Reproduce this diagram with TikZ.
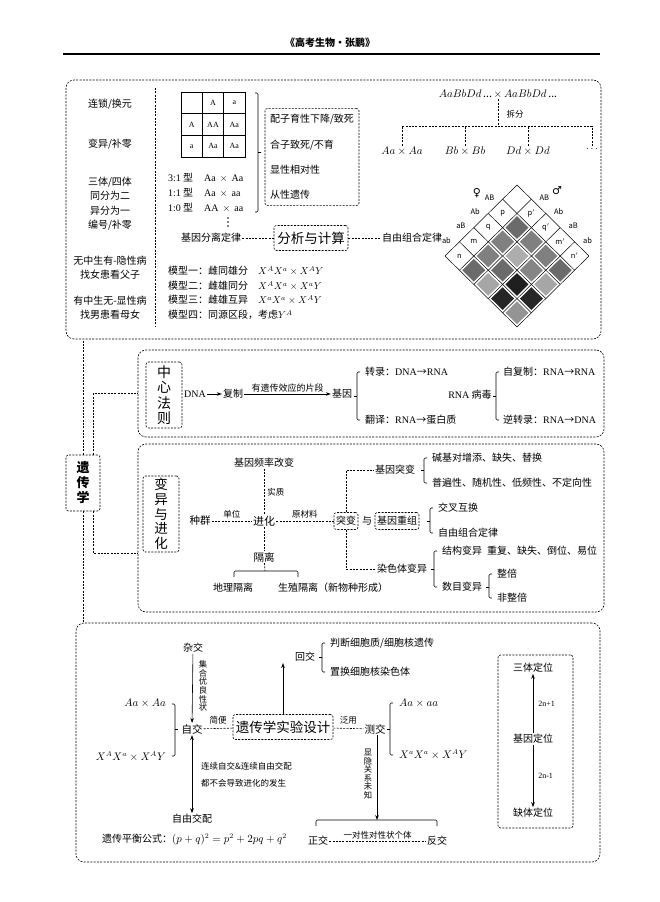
\documentclass[tikz,border=0pt]{standalone}
\usepackage{fontspec}
\usetikzlibrary{arrows.meta,calc}
\newfontfamily\cjk{Noto Sans CJK SC}
\newfontfamily\symf{DejaVu Sans}
\newfontfamily\latf{Liberation Serif}
\newcommand\lat[1]{{\latf #1}}
\newcommand\mybraceR[4]{\draw[brc] (#1+3,#2) -- (#1,#2) -- (#1,#3) -- (#1+3,#3); \draw[brc] (#1,#4) -- (#1-3,#4);}
\newcommand\mybraceL[4]{\draw[brc] (#1-3,#2) -- (#1,#2) -- (#1,#3) -- (#1-3,#3); \draw[brc] (#1,#4) -- (#1+3,#4);}
\begin{document}
\begin{tikzpicture}[x=1pt,y=-1pt,
  every node/.style={font=\cjk\fontsize{10}{12}\selectfont, inner sep=1pt},
  dsh/.style={dash pattern=on 2pt off 1.3pt, line width=0.6pt},
  panel/.style={dsh, rounded corners=8pt},
  dbox/.style={draw, dsh, rounded corners=2.5pt},
  big/.style={font=\cjk\fontsize{13.5}{15}\selectfont},
  sm/.style={font=\cjk\fontsize{8.5}{10}\selectfont},
  vs/.style={font=\cjk\fontsize{8.3}{8.6}\selectfont, align=center},
  gl/.style={font=\latf\fontsize{8}{9}\selectfont},
  dl/.style={font=\cjk\fontsize{7.5}{8}\selectfont, inner sep=0.5pt},
  mth/.style={font=\cjk\fontsize{10.5}{12}\selectfont},
  arr/.style={-{Stealth[length=5pt,width=3.6pt]}, line width=0.6pt},
  darr/.style={{Stealth[length=5pt,width=3.6pt]}-{Stealth[length=5pt,width=3.6pt]}, line width=0.6pt},
  brc/.style={line width=0.6pt, rounded corners=1.2pt},
  conn/.style={dsh},
]
\useasboundingbox (0,0) rectangle (659,902);
\fill[white] (0,0) rectangle (659,902);

% header
\node[font=\cjk\bfseries\fontsize{10}{12}\selectfont] (hdr) at (330,43) {《高考生物·张鹏》};
\coordinate (hl1) at (63,54); \coordinate (hl2) at (600,54);
\draw[line width=1.6pt] (hl1) -- (hl2);

% ================= panel 1
\node[draw,panel,minimum width=535,minimum height=259,inner sep=0] (P1) at (333.5,209.5) {};
\coordinate (dv1) at (155,88); \coordinate (dv2) at (155,327);
\draw[dsh] (dv1) -- (dv2);

\node (t1) at (110,104) {连锁/换元};
\node (t2) at (110,144) {变异/补零};
\node[align=center, font=\cjk\fontsize{10}{14.5}\selectfont] (t3) at (110,203.5) {三体/四体\\同分为二\\异分为一\\编号/补零};
\node[align=center, font=\cjk\fontsize{10}{14}\selectfont] (t4) at (110,268) {无中生有-隐性病\\找女患看父子};
\node[align=center, font=\cjk\fontsize{10}{14}\selectfont] (t5) at (110,308) {有中生无-显性病\\找男患看母女};

% Punnett square
\draw[line width=0.5pt] (181,92) rectangle (245,157);
\foreach \xx in {202.3,223.7} \draw[line width=0.5pt] (\xx,92) -- (\xx,157);
\foreach \yy in {113.7,135.3} \draw[line width=0.5pt] (181,\yy) -- (245,\yy);
\node[gl] (g01) at (213,102.8) {A};
\node[gl] (g02) at (234.3,102.8) {a};
\node[gl] (g10) at (191.7,124.5) {A};
\node[gl] (g11) at (213,124.5) {AA};
\node[gl] (g12) at (234.3,124.5) {Aa};
\node[gl] (g20) at (191.7,146.2) {a};
\node[gl] (g21) at (213,146.2) {Aa};
\node[gl] (g22) at (234.3,146.2) {Aa};

\node[anchor=west] (r31) at (167,178) {\lat{3:1} 型\hspace{11pt}\lat{Aa\hspace{4pt}$\times$\hspace{4pt}Aa}};
\node[anchor=west] (r11) at (167,193) {\lat{1:1} 型\hspace{11pt}\lat{Aa\hspace{4pt}$\times$\hspace{4pt}aa}};
\node[anchor=west] (r10) at (167,208) {\lat{1:0} 型\hspace{11pt}\lat{AA\hspace{4pt}$\times$\hspace{4pt}aa}};
\coordinate (vd) at (228,222);
\foreach \dd in {-4,0,4} \fill ($(vd)+(0,\dd)$) circle (0.8pt);

\mybraceL{258}{93}{212}{152}
\node[dbox, align=left, font=\cjk\fontsize{10}{25.3}\selectfont, inner xsep=5pt, inner ysep=6pt, minimum width=94] (fbox) at (312,157) {配子育性下降/致死\\合子致死/不育\\显性相对性\\从性遗传};

\node (fl) at (211,238) {基因分离定律};
\node[dbox, big, minimum width=74, minimum height=25] (fx) at (311,238) {分析与计算};
\node (zy) at (412,238) {自由组合定律};
\draw[conn] (fl) -- (fx);
\draw[conn] (fx) -- (zy);

\node[anchor=west] (m1) at (167,271) {模型一：雌同雄分\hspace{10pt}$X^AX^a\times X^AY$};
\node[anchor=west] (m2) at (167,286) {模型二：雌雄同分\hspace{10pt}$X^AX^a\times X^aY$};
\node[anchor=west] (m3) at (167,300) {模型三：雌雄互异\hspace{10pt}$X^aX^a\times X^AY$};
\node[anchor=west] (m4) at (167,315) {模型四：同源区段，考虑$Y^A$};

% split
\node[mth] (ab0) at (498,94) {$AaBbDd$\,...\,$\times$\,$AaBbDd$\,...};
\coordinate (sp) at (498,126);
\node[sm] (cf) at (515,114) {拆分};
\node[mth] (aa1) at (402,151) {$Aa\times Aa$};
\node[mth] (bb1) at (465,151) {$Bb\times Bb$};
\node[mth] (dd1) at (528,151) {$Dd\times Dd$};
\node (dts) at (592,149) {$\cdots$};
\draw[conn] (ab0.south) -- (sp);
\draw[conn] (aa1.north) |- (sp) -| (dts.north);
\draw[conn] (bb1.north) -- (bb1.north |- sp);
\draw[conn] (dd1.north) -- (dd1.north |- sp);

% diamond
\begin{scope}[shift={(517,185)}, x={(14.4pt,-14.2pt)}, y={(-14.4pt,-14.2pt)}]
  \foreach \i/\j/\g in {1/1/58, 1/2/50, 2/1/50, 2/2/32, 1/3/50, 3/1/50, 1/4/58, 4/1/58, 2/3/48, 3/2/58, 2/4/35, 4/2/35, 3/3/88, 3/4/85, 4/3/85, 4/4/42}
    \fill[black!\g] (\j+0.1,\i+0.1) -- (\j+0.9,\i+0.1) -- (\j+0.9,\i+0.9) -- (\j+0.1,\i+0.9) -- cycle;
  \foreach \k in {0,...,5} {
    \draw[line width=0.5pt] (\k,0) -- (\k,5);
    \draw[line width=0.5pt] (0,\k) -- (5,\k);
  }
  \node[dl] (hp) at (0.5,1.5) {p};
  \node[dl] (hq) at (0.5,2.5) {q};
  \node[dl] (hm) at (0.5,3.5) {m};
  \node[dl] (hn) at (0.5,4.5) {n};
  \node[dl] (hp2) at (1.5,0.5) {p$'$};
  \node[dl] (hq2) at (2.5,0.5) {q$'$};
  \node[dl] (hm2) at (3.5,0.5) {m$'$};
  \node[dl] (hn2) at (4.5,0.5) {n$'$};
  \node[dl] (la1) at (-0.5,1.4) {AB};
  \node[dl] (la2) at (-0.5,2.4) {Ab};
  \node[dl] (la3) at (-0.5,3.4) {aB};
  \node[dl] (la4) at (-0.5,4.4) {ab};
  \node[dl] (ra1) at (1.4,-0.5) {AB};
  \node[dl] (ra2) at (2.4,-0.5) {Ab};
  \node[dl] (ra3) at (3.4,-0.5) {aB};
  \node[dl] (ra4) at (4.4,-0.5) {ab};
\end{scope}
\node[font=\symf\fontsize{11}{12}\selectfont] (fem) at (477,193) {♀};
\node[font=\symf\fontsize{11}{12}\selectfont] (mal) at (557,191) {♂};

% ================= 遗传学 and connectors
\node[dbox, font=\cjk\bfseries\fontsize{13}{15}\selectfont, align=center, minimum width=34, minimum height=56] (ycx) at (83,483) {遗\\传\\学};
\node[draw,panel,minimum width=466,minimum height=87,inner sep=0] (P2) at (371,393.5) {};
\node[draw,panel,minimum width=466,minimum height=168,inner sep=0] (P3) at (371,528) {};
\node[draw,panel,minimum width=524,minimum height=239,inner sep=0] (P4) at (338,742.5) {};
\coordinate (c3) at (138,553);
\draw[conn] (ycx.north) -- (ycx.north |- P1.south);
\draw[conn] (ycx.south) -- (ycx.south |- P4.north);
\draw[conn] ($(ycx.north)+(10,0)$) |- (P2.west);
\draw[conn] ($(ycx.south)+(10,0)$) |- (c3);

% ================= panel 2
\node[dbox, align=center, font=\cjk\fontsize{14}{15.5}\selectfont, minimum width=36, minimum height=66] (zx) at (164,395) {中\\心\\法\\则};
\node (dna) at (195,394) {\lat{DNA}};
\node (fz) at (233,394) {复制};
\node (jy) at (342,394) {基因};
\draw[arr] (dna) -- (fz);
\draw[arr] (fz) -- node[above=0.5pt, font=\cjk\fontsize{9}{10}\selectfont] (yxd) {有遗传效应的片段} (jy);
\mybraceR{357}{372}{420}{396}
\node[anchor=west] (zl) at (364,372) {转录：\lat{DNA}→\lat{RNA}};
\node[anchor=west] (fy) at (364,420) {翻译：\lat{RNA}→蛋白质};
\node (rv) at (470,395) {\lat{RNA} 病毒};
\mybraceR{496}{372}{420}{396}
\node[anchor=west] (zfz) at (502,372) {自复制：\lat{RNA}→\lat{RNA}};
\node[anchor=west] (nzl) at (502,420) {逆转录：\lat{RNA}→\lat{DNA}};

% ================= panel 3
\node[dbox, align=center, font=\cjk\fontsize{13.5}{14.6}\selectfont, minimum width=36, minimum height=76] (byx) at (161,514) {变\\异\\与\\进\\化};
\node (plgb) at (264,463) {基因频率改变};
\node[font=\cjk\fontsize{11}{12}\selectfont] (jh) at (264,521) {进化};
\node[font=\cjk\fontsize{10.5}{12}\selectfont] (zq) at (200,521) {种群};
\node[font=\cjk\fontsize{10.5}{12}\selectfont] (gl) at (264,557) {隔离};
\draw[conn] (plgb) -- node[right=2pt, sm] (sz) {实质} (jh);
\draw[conn] (zq) -- node[above=2pt, sm] (dw) {单位} (jh);
\draw[conn] (jh) -- (gl);
\node[dbox, minimum height=17, inner xsep=2pt] (tb) at (346,521) {突变};
\node (yu) at (367,521) {与};
\node[dbox, minimum height=17, inner xsep=2pt] (jz) at (397,521) {基因重组};
\draw[conn] (jh) -- node[above=2pt, sm] (ycl) {原材料} (tb);
\mybraceR{430}{508}{533}{521}
\node[anchor=west] (jchh) at (437,508) {交叉互换};
\node[anchor=west] (zyzh) at (437,533) {自由组合定律};
\node (jytb) at (395,470) {基因突变};
\node (rstb) at (402,569) {染色体变异};
\draw[conn] (tb.north) |- (jytb.west);
\draw[conn] (tb.south) |- (rstb.west);
\mybraceR{424}{458}{483}{470}
\node[anchor=west] (jjd) at (431,458) {碱基对增添、缺失、替换};
\node[anchor=west] (pbx) at (431,483) {普遍性、随机性、低频性、不定向性};
\mybraceR{434}{551}{587}{569}
\node[anchor=west] (jgby) at (441,551) {结构变异\hspace{5pt}重复、缺失、倒位、易位};
\node[anchor=west] (smby) at (441,587) {数目变异};
\mybraceR{489}{574}{598}{587}
\node[anchor=west] (zb) at (496,574) {整倍};
\node[anchor=west] (fzb) at (496,598) {非整倍};
\coordinate (glb) at (265,571);
\draw[conn] (gl) -- (glb);
\draw[brc] (234,577) -- (234,571) -- (298,571) -- (298,577);
\node (dlgl) at (233,588) {地理隔离};
\node (szgl) at (333,588) {生殖隔离（新物种形成）};

% ================= panel 4
\node (zj) at (193,648) {杂交};
\node[font=\cjk\fontsize{10.5}{12}\selectfont] (zjo) at (192,729) {自交};
\draw[arr] (zj) -- (zjo);
\node[vs] (jhyl) at (203,686) {集\\合\\优\\良\\性\\状};
\mybraceL{175}{704}{756}{729}
\node[anchor=east, mth] (aa2) at (167,703) {$Aa\times Aa$};
\node[anchor=east, mth] (xx2) at (167,757) {$X^AX^a\times X^AY$};
\node[dbox, big, minimum width=100, minimum height=25] (sjsj) at (283,727) {遗传学实验设计};
\draw[conn] (zjo) -- node[above=3pt, sm] (jb) {简便} (sjsj);
\coordinate (upt) at (283,663);
\draw[arr] (sjsj.north) -- (upt);
\node (hj) at (305,657) {回交};
\mybraceR{322}{643}{672}{657}
\node[anchor=west] (pdxb) at (329,643) {判断细胞质/细胞核遗传};
\node[anchor=west] (zhxb) at (329,672) {置换细胞核染色体};
\node[font=\cjk\fontsize{10.5}{12}\selectfont] (cj) at (375,729) {测交};
\draw[conn] (sjsj) -- node[above=3pt, sm] (fyy) {泛用} (cj);
\mybraceR{390}{703}{755}{729}
\node[anchor=west, mth] (aa3) at (398,703) {$Aa\times aa$};
\node[anchor=west, mth] (xx3) at (398,755) {$X^aX^a\times X^AY$};
\coordinate (cjb) at (377,820);
\draw[arr] (cj.south -| cjb) -- (cjb);
\node[vs] (xygx) at (368,774) {显\\隐\\关\\系\\未\\知};
\draw[brc] (316,826) -- (316,820) -- (437,820) -- (437,826);
\node (zjx) at (318,841) {正交};
\node (fjx) at (437,841) {反交};
\draw[conn] (zjx) -- node[above=1pt, sm] (ydx) {一对性对性状个体} (fjx);
\node (zyjp) at (192,819) {自由交配};
\draw[darr] (zjo) -- (zyjp);
\node[anchor=west, sm] (lx1) at (200,766) {连续自交\&连续自由交配};
\node[anchor=west, sm] (lx2) at (200,783) {都不会导致进化的发生};
\node[anchor=west] (ycph) at (101,840) {遗传平衡公式：{\fontsize{10.5}{12}\selectfont$(p+q)^2=p^2+2pq+q^2$}};

\node[dbox, minimum width=75, minimum height=173] (dwbox) at (535.5,741.5) {};
\node (stdw) at (533,668) {三体定位};
\node (jydw) at (533,739) {基因定位};
\node (qtdw) at (533,813) {缺体定位};
\draw[arr] (jydw) -- node[right=4pt, gl] (l21) {2n+1} (stdw);
\draw[arr] (jydw) -- node[right=4pt, gl] (l22) {2n-1} (qtdw);
\end{tikzpicture}
\end{document}
